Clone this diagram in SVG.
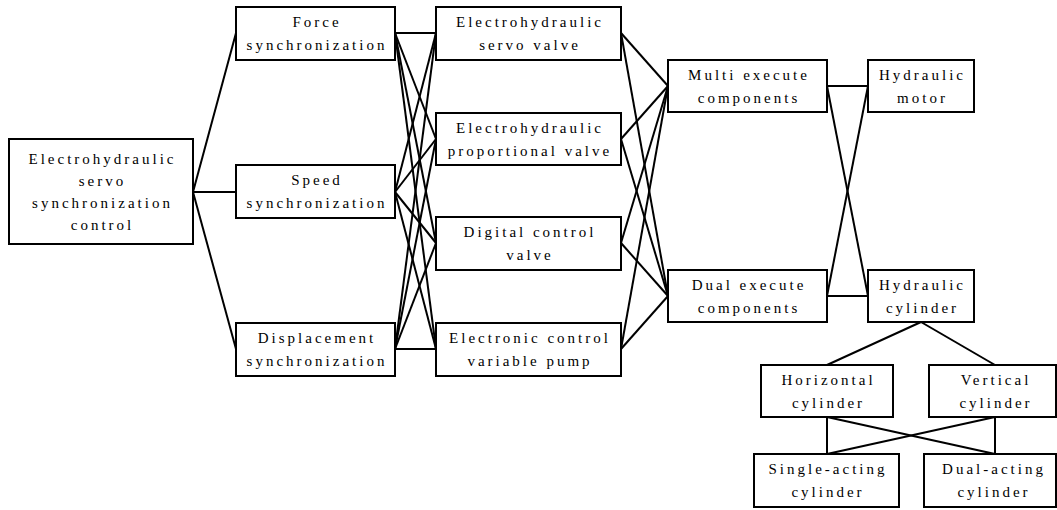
<svg xmlns="http://www.w3.org/2000/svg" width="1057" height="510" viewBox="0 0 1057 510">
<style>
rect{fill:#fff;stroke:#000;stroke-width:2}
text{font-family:"Liberation Serif","Times New Roman",serif;font-size:15px;letter-spacing:3px;text-anchor:middle;fill:#000}
#connectors line{stroke:#000;stroke-width:2}
</style>
<rect x="0" y="0" width="1057" height="510" style="stroke:none"/>
<g id="connectors">
<line x1="193" y1="192" x2="236" y2="33"/>
<line x1="193" y1="192" x2="236" y2="192"/>
<line x1="193" y1="192" x2="236" y2="349"/>
<line x1="395" y1="33" x2="436" y2="33"/>
<line x1="395" y1="33" x2="436" y2="139"/>
<line x1="395" y1="33" x2="436" y2="243"/>
<line x1="395" y1="33" x2="436" y2="349"/>
<line x1="395" y1="192" x2="436" y2="33"/>
<line x1="395" y1="192" x2="436" y2="139"/>
<line x1="395" y1="192" x2="436" y2="243"/>
<line x1="395" y1="192" x2="436" y2="349"/>
<line x1="395" y1="349" x2="436" y2="33"/>
<line x1="395" y1="349" x2="436" y2="139"/>
<line x1="395" y1="349" x2="436" y2="243"/>
<line x1="395" y1="349" x2="436" y2="349"/>
<line x1="621" y1="33" x2="668" y2="86"/>
<line x1="621" y1="33" x2="668" y2="296"/>
<line x1="621" y1="139" x2="668" y2="86"/>
<line x1="621" y1="139" x2="668" y2="296"/>
<line x1="621" y1="243" x2="668" y2="86"/>
<line x1="621" y1="243" x2="668" y2="296"/>
<line x1="621" y1="349" x2="668" y2="86"/>
<line x1="621" y1="349" x2="668" y2="296"/>
<line x1="827" y1="86" x2="868" y2="86"/>
<line x1="827" y1="86" x2="868" y2="296"/>
<line x1="827" y1="296" x2="868" y2="86"/>
<line x1="827" y1="296" x2="868" y2="296"/>
<line x1="921" y1="322" x2="827" y2="365"/>
<line x1="921" y1="322" x2="995" y2="365"/>
<line x1="827" y1="417" x2="827" y2="454"/>
<line x1="827" y1="417" x2="995" y2="454"/>
<line x1="995" y1="417" x2="995" y2="454"/>
<line x1="995" y1="417" x2="827" y2="454"/>
</g>
<g id="root"><rect x="9" y="139" width="184" height="105"/>
<text x="102.5" y="164">Electrohydraulic</text><text x="102.5" y="186">servo</text><text x="102.5" y="208">synchronization</text><text x="102.5" y="230">control</text></g>
<g id="force"><rect x="236" y="7" width="159" height="53"/><text x="317" y="27">Force</text><text x="317" y="50">synchronization</text></g>
<g id="speed"><rect x="236" y="165" width="159" height="53"/><text x="317" y="185">Speed</text><text x="317" y="208">synchronization</text></g>
<g id="displacement"><rect x="236" y="323" width="159" height="53"/><text x="317" y="343">Displacement</text><text x="317" y="366">synchronization</text></g>
<g id="servo-valve"><rect x="436" y="7" width="185" height="53"/><text x="530" y="27">Electrohydraulic</text><text x="530" y="50">servo valve</text></g>
<g id="proportional-valve"><rect x="436" y="113" width="185" height="52"/><text x="530" y="133">Electrohydraulic</text><text x="530" y="156">proportional valve</text></g>
<g id="digital-valve"><rect x="436" y="217" width="185" height="53"/><text x="530" y="237">Digital control</text><text x="530" y="260">valve</text></g>
<g id="variable-pump"><rect x="436" y="323" width="185" height="53"/><text x="530" y="343">Electronic control</text><text x="530" y="366">variable pump</text></g>
<g id="multi"><rect x="668" y="60" width="159" height="52"/><text x="749" y="80">Multi execute</text><text x="749" y="103">components</text></g>
<g id="dual"><rect x="668" y="270" width="159" height="52"/><text x="749" y="290">Dual execute</text><text x="749" y="313">components</text></g>
<g id="motor"><rect x="868" y="60" width="106" height="52"/><text x="922.5" y="80">Hydraulic</text><text x="922.5" y="103">motor</text></g>
<g id="cylinder"><rect x="868" y="270" width="106" height="52"/><text x="922.5" y="290">Hydraulic</text><text x="922.5" y="313">cylinder</text></g>
<g id="horizontal"><rect x="761" y="365" width="132" height="52"/><text x="828.5" y="385">Horizontal</text><text x="828.5" y="408">cylinder</text></g>
<g id="vertical"><rect x="929" y="365" width="127" height="52"/><text x="996" y="385">Vertical</text><text x="996" y="408">cylinder</text></g>
<g id="single-acting"><rect x="754" y="454" width="145" height="53"/><text x="828" y="474">Single-acting</text><text x="828" y="497">cylinder</text></g>
<g id="dual-acting"><rect x="924" y="454" width="132" height="53"/><text x="994" y="474">Dual-acting</text><text x="994" y="497">cylinder</text></g>
</svg>
